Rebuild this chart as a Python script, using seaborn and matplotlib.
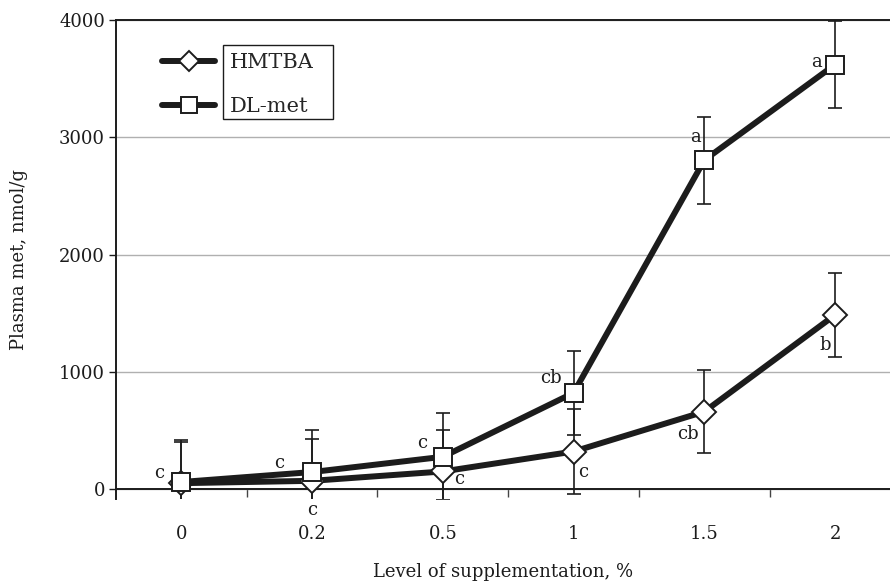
import numpy as np
import pandas as pd
import matplotlib
matplotlib.use('Agg')
import matplotlib.pyplot as plt
import seaborn as sns
from matplotlib.patches import Rectangle
from matplotlib.ticker import FixedLocator

# data
levels = ['0', '0.2', '0.5', '1', '1.5', '2']
hmtba = [50, 70, 150, 320, 660, 1485]
hmtba_sd = [355, 355, 350, 360, 355, 355]
dlmet = [60, 145, 275, 820, 2805, 3620]
dlmet_sd = [355, 355, 370, 355, 370, 370]
hmtba_letters = ['', 'c', 'c', 'c', 'cb', 'b']
dlmet_letters = ['c', 'c', 'c', 'cb', 'a', 'a']

# letter offsets in pixels (x right, y up)
hmtba_off = [(0, 0), (0, -29), (16, -8), (10, -20), (-16, -22), (-10, -30)]
dlmet_off = [(-22, 9), (-33, 9), (-21, 14), (-23, 15), (-9, 23), (-19, 3)]

pos = np.arange(len(levels))
df = pd.DataFrame({
    'pos': np.concatenate([pos, pos]),
    'value': hmtba + dlmet,
    'sd': hmtba_sd + dlmet_sd,
    'series': ['HMTBA'] * len(levels) + ['DL-met'] * len(levels),
})

sns.set_theme(style='white')
plt.rcParams['font.family'] = ['DejaVu Serif']

fig = plt.figure(figsize=(8.9, 5.81), dpi=100)
ax = fig.add_axes([116 / 890, 1 - 499 / 581, 1 - 116 / 890, (499 - 20) / 581])

ink = '#1c1c1c'

# error bars
for name in ['HMTBA', 'DL-met']:
    sub = df[df['series'] == name]
    ax.errorbar(sub['pos'], sub['value'], yerr=sub['sd'], fmt='none',
                ecolor=ink, elinewidth=1.2, capsize=5, capthick=1.2, zorder=2)

markers = {'HMTBA': 'D', 'DL-met': 's'}
sizes = {'HMTBA': 12, 'DL-met': 13}
for name in ['HMTBA', 'DL-met']:
    sub = df[df['series'] == name]
    sns.lineplot(data=sub, x='pos', y='value', ax=ax, color=ink, lw=4.3,
                 marker=markers[name], markersize=sizes[name],
                 markerfacecolor='white', markeredgecolor=ink,
                 markeredgewidth=1.4, label=name, legend=False, zorder=3,
                 errorbar=None)

# significance letters
for vals, lets, offs in [(hmtba, hmtba_letters, hmtba_off),
                         (dlmet, dlmet_letters, dlmet_off)]:
    for i, (v, t, o) in enumerate(zip(vals, lets, offs)):
        if t:
            ax.annotate(t, (pos[i], v), xytext=o, textcoords='offset pixels',
                        ha='center', va='center', fontsize=13, color=ink)

ax.set_xlim(-0.5, 5.42)
ax.set_ylim(-85, 4000)
ax.set_yticks([0, 1000, 2000, 3000, 4000])
ax.set_xticks(pos)
ax.set_xticklabels(levels)
ax.xaxis.set_minor_locator(FixedLocator(pos[:-1] + 0.5))
ax.tick_params(axis='x', which='major', length=0, pad=26, labelsize=13, colors=ink)
ax.tick_params(axis='x', which='minor', length=6, width=1, direction='out',
               bottom=True, color='#444444')
ax.tick_params(axis='y', which='major', length=5, width=1, direction='out',
               left=True, labelsize=13, colors=ink, pad=3)

ax.yaxis.grid(True, color='#b0b0b0', lw=1)
ax.set_axisbelow(True)
ax.spines['bottom'].set_position(('data', 0))
for s in ['left', 'top', 'bottom']:
    ax.spines[s].set_color(ink)
    ax.spines[s].set_linewidth(1.4)
ax.spines['right'].set_visible(False)

ax.set_xlabel('Level of supplementation, %', fontsize=13, color=ink, labelpad=14)
ax.set_ylabel('Plasma met, nmol/g', fontsize=13, color=ink, labelpad=22)

handles, labels = ax.get_legend_handles_labels()
leg = fig.legend(handles, labels, loc='upper left',
                 bbox_to_anchor=(162 / 890, 1 - 53 / 581),
                 frameon=False, fontsize=15, handlelength=2.55,
                 handletextpad=0.72, labelspacing=1.2, borderpad=0,
                 borderaxespad=0, markerscale=0.85)

fig.canvas.draw()
r = fig.canvas.get_renderer()
bbs = [t.get_window_extent(r) for t in leg.get_texts()]
x0 = min(b.x0 for b in bbs) - 7
x1 = x0 + 110
c_top = (bbs[0].y0 + bbs[0].y1) / 2
c_bot = (bbs[-1].y0 + bbs[-1].y1) / 2
y1 = c_top + 17
y0 = c_bot - 13
inv = fig.transFigure.inverted()
(fx0, fy0), (fx1, fy1) = inv.transform([(x0, y0), (x1, y1)])
fig.add_artist(Rectangle((fx0, fy0), fx1 - fx0, fy1 - fy0, transform=fig.transFigure,
                         fill=False, edgecolor=ink, lw=1))

fig.savefig('out.png', dpi=100)
